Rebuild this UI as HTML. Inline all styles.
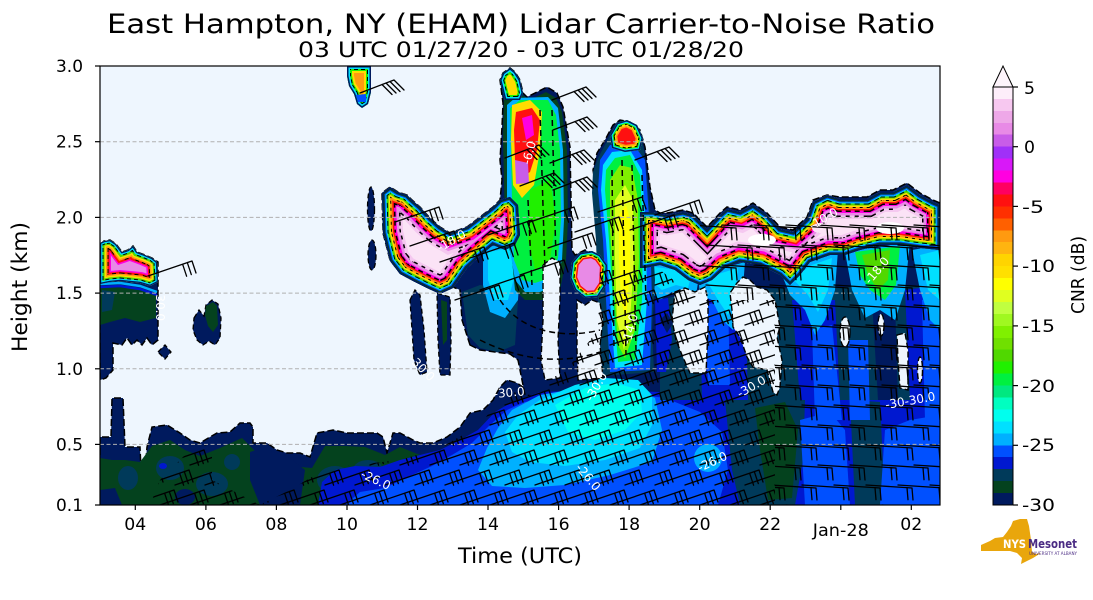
<!DOCTYPE html>
<html><head><meta charset="utf-8"><style>
html,body{margin:0;padding:0;background:#fff;}
svg{display:block;font-family:"DejaVu Sans","Liberation Sans",sans-serif;}
</style></head><body>
<svg width="1093" height="600" viewBox="0 0 1093 600" xmlns="http://www.w3.org/2000/svg">
<defs>
 <clipPath id="plot"><rect x="100" y="66" width="840" height="439"/></clipPath>
 <polygon id="c0" points="347,66 371,66 371,92 368,104 362,108 357,104 354,94 349,86 347,76"/>
 <polygon id="c1" points="100,243 104,241 110,240 116,244 122,252 128,250 133,246 137,252 145,255 152,258 157,262 158,282 150,286 140,283 130,282 120,281 110,282 100,284"/>
 <polygon id="c2" points="382,193 390,187 398,192 407,195 412,200 420,207 430,218 440,227 450,233 467,227 480,217 493,207 500,200 510,197 518,205 520,235 515,245 505,250 493,245 480,256 467,268 453,288 440,294 427,288 413,281 400,274 390,261 383,233"/>
 <polygon id="c3" points="640,212 653,212 667,215 683,212 693,215 707,229 720,215 727,209 740,212 753,205 767,215 780,229 793,232 807,219 813,202 827,195 840,199 853,199 867,199 880,192 893,192 907,185 920,195 933,202 940,205 940,250 920,248 900,245 880,245 860,250 845,255 830,255 810,262 800,275 790,285 780,275 760,265 740,262 725,268 712,280 700,285 688,280 675,270 660,265 645,268 640,268"/>
 <polygon id="c4" points="572,262 580,253 592,251 600,255 607,265 606,285 598,297 585,298 575,290 570,278"/>
 <polygon id="c5" points="610,135 617,123 627,120 637,125 643,138 640,150 625,152 612,148"/>
 <polygon id="c6" points="500,80 503,73 510,68 515,72 520,80 523,93 520,100 505,100"/>
 <clipPath id="k0"><polygon points="347,66 371,66 371,92 368,104 362,108 357,104 354,94 349,86 347,76"/></clipPath>
 <clipPath id="k1"><polygon points="100,243 104,241 110,240 116,244 122,252 128,250 133,246 137,252 145,255 152,258 157,262 158,282 150,286 140,283 130,282 120,281 110,282 100,284"/></clipPath>
 <clipPath id="k2"><polygon points="382,193 390,187 398,192 407,195 412,200 420,207 430,218 440,227 450,233 467,227 480,217 493,207 500,200 510,197 518,205 520,235 515,245 505,250 493,245 480,256 467,268 453,288 440,294 427,288 413,281 400,274 390,261 383,233"/></clipPath>
 <clipPath id="k3"><polygon points="640,212 653,212 667,215 683,212 693,215 707,229 720,215 727,209 740,212 753,205 767,215 780,229 793,232 807,219 813,202 827,195 840,199 853,199 867,199 880,192 893,192 907,185 920,195 933,202 940,205 940,250 920,248 900,245 880,245 860,250 845,255 830,255 810,262 800,275 790,285 780,275 760,265 740,262 725,268 712,280 700,285 688,280 675,270 660,265 645,268 640,268"/></clipPath>
 <clipPath id="k4"><polygon points="572,262 580,253 592,251 600,255 607,265 606,285 598,297 585,298 575,290 570,278"/></clipPath>
 <clipPath id="k5"><polygon points="610,135 617,123 627,120 637,125 643,138 640,150 625,152 612,148"/></clipPath>
 <clipPath id="k6"><polygon points="500,80 503,73 510,68 515,72 520,80 523,93 520,100 505,100"/></clipPath>
 <clipPath id="CA"><polygon points="150,505 160,480 195,445 212,445 212,480 260,505 290,490 310,478 330,468 400,460 440,448 480,425 500,398 540,383 565,372 598,330 600,270 660,270 700,300 775,300 775,505"/></clipPath>
 <clipPath id="CB"><polygon points="775,505 775,300 700,300 700,215 940,205 940,505"/></clipPath>
 <path id="bA" d="M0,0 L44,-15 M44,-15 L48,-3 M39.3,-13.4 L43.3,-1.4 M34.6,-11.8 L38.6,0.2"/>
 <path id="bB" d="M0,0 L46,3 M46,3 L47,15 M41,2.7 L42,14.7"/>
 <path id="bC" d="M0,0 L34,-13 M34,-13 L44,-3 M30,-11.5 L40,-1.5 M26,-10 L36,0 M22,-8.5 L32,1.5"/>
 <g id="rowA"><use href="#bA" x="0"/><use href="#bA" x="30"/><use href="#bA" x="60"/><use href="#bA" x="90"/><use href="#bA" x="120"/><use href="#bA" x="150"/><use href="#bA" x="180"/><use href="#bA" x="210"/><use href="#bA" x="240"/><use href="#bA" x="270"/><use href="#bA" x="300"/><use href="#bA" x="330"/><use href="#bA" x="360"/><use href="#bA" x="390"/><use href="#bA" x="420"/><use href="#bA" x="450"/><use href="#bA" x="480"/><use href="#bA" x="510"/><use href="#bA" x="540"/><use href="#bA" x="570"/><use href="#bA" x="600"/><use href="#bA" x="630"/><use href="#bA" x="660"/></g>
 <g id="rowB"><use href="#bB" x="0"/><use href="#bB" x="32"/><use href="#bB" x="64"/><use href="#bB" x="96"/><use href="#bB" x="128"/><use href="#bB" x="160"/><use href="#bB" x="192"/><use href="#bB" x="224"/></g>
</defs>

<rect width="1093" height="600" fill="#fff"/>

<!-- Titles -->
<text x="521" y="33" font-size="27" text-anchor="middle" textLength="828" lengthAdjust="spacingAndGlyphs">East Hampton, NY (EHAM) Lidar Carrier-to-Noise Ratio</text>
<text x="521" y="57" font-size="21" text-anchor="middle" textLength="446" lengthAdjust="spacingAndGlyphs">03 UTC 01/27/20 - 03 UTC 01/28/20</text>

<g clip-path="url(#plot)">
 <rect x="100" y="66" width="840" height="439" fill="#eef6fe"/>

 <!-- ground navy -->
 <polygon fill="#001a5e" stroke="#000" stroke-width="1.5" stroke-dasharray="7,3" points="100,505 100,437 111,437 112,398 123,398 125,447 140,447 141,470 145,470 147,447 152,427 167,425 180,433 190,440 200,443 210,437 217,433 230,432 240,423 250,423 253,427 253,443 267,443 277,450 287,453 300,453 310,457 317,433 333,430 347,433 357,433 377,433 383,437 387,453 393,433 400,433 413,440 420,443 433,443 447,437 460,427 470,413 483,410 493,400 500,387 507,380 517,383 527,390 533,388 543,377 560,378 600,380 657,374 707,374 730,382 775,396 782,396 800,380 940,380 940,505"/>
 <!-- left upper navy -->
 <polygon fill="#001a5e" stroke="#000" stroke-width="1.5" stroke-dasharray="7,3" points="100,245 104,241 110,240 116,244 122,252 128,250 133,246 137,252 145,255 152,258 158,262 158,340 152,345 147,338 142,345 137,340 132,345 127,338 122,345 113,343 113,370 106,378 100,380"/>
 <polygon fill="#001a5e" stroke="#000" stroke-width="1.3" stroke-dasharray="5,3" points="158,352 165,345 171,352 165,359"/>
 <polygon fill="#001a5e" stroke="#000" stroke-width="1.3" stroke-dasharray="5,3" points="194,318 199,310 204,316 206,305 212,300 218,304 221,318 220,338 215,345 209,341 203,345 197,340 193,330"/>
 <polygon fill="#04421e" points="206,306 213,302 217,306 218,325 213,332 208,326 205,315"/>
 <ellipse cx="371" cy="209" rx="3.5" ry="22" fill="#001a5e" stroke="#000" stroke-width="1.3" stroke-dasharray="5,3"/>
 <ellipse cx="372" cy="255" rx="4" ry="15" fill="#001a5e" stroke="#000" stroke-width="1.3" stroke-dasharray="5,3"/>
 <!-- right mass navy -->
 <polygon fill="#001a5e" stroke="#000" stroke-width="1.5" stroke-dasharray="7,3" points="470,345 462,320 460,290 453,287 440,293 427,287 413,280 400,273 390,260 383,233 382,193 390,187 398,192 407,195 412,200 420,207 430,218 440,227 450,233 467,227 480,217 493,207 500,200 502,180 500,160 502,127 503,103 500,80 503,73 510,68 515,72 520,80 523,93 527,97 537,92 547,87 557,93 563,107 570,147 571,200 572,250 575,255 585,250 597,255 600,240 597,193 593,170 597,153 605,140 613,125 620,120 630,122 640,130 645,147 650,187 655,210 660,213 667,213 683,210 693,213 707,227 720,213 727,207 740,210 753,203 767,213 780,227 793,230 807,217 813,200 827,195 840,197 853,197 867,197 880,190 893,190 907,183 920,193 933,200 940,203 940,400 560,400 525,395 518,360 510,354 495,352 480,350"/>
 <polygon fill="#001a5e" stroke="#000" stroke-width="1.3" stroke-dasharray="5,3" points="410,300 415,290 420,295 424,330 427,372 420,375 414,360 412,330"/>
 <polygon fill="#001a5e" stroke="#000" stroke-width="1.3" stroke-dasharray="5,3" points="437,293 450,297 451,340 450,375 440,375 438,340"/>
 <polygon fill="#04421e" points="441,300 447,302 447,340 443,345"/>

 <!-- left interior -->
 <polygon fill="#04421e" points="100,286 120,285 140,288 156,295 156,318 140,322 125,318 110,322 100,325"/>
 <polygon fill="#003a5a" points="102,290 115,292 112,310 102,312"/>
 <polyline fill="none" stroke="#0018d0" stroke-width="2.5" points="100,287 120,286 140,289 157,295"/>
 <polyline fill="none" stroke="#00b0ff" stroke-width="2.5" points="100,284 120,283 140,286 157,292"/>

 <!-- ground interior -->
 <polygon fill="#04421e" points="100,505 100,458 112,460 125,460 140,462 152,446 170,440 185,450 200,456 220,448 242,438 256,452 270,460 290,466 312,468 325,446 345,446 365,447 385,455 400,447 420,455 440,452 460,442 480,432 500,415 520,405 545,395 600,392 700,392 940,398 940,505"/>
 <polygon fill="#001a5e" points="250,452 262,448 290,458 305,470 300,505 260,505 250,480"/>
 <polygon fill="#001a5e" points="100,490 115,488 122,505 100,505"/>
 <ellipse cx="185" cy="497" rx="10" ry="8" fill="#001a5e"/>
 <ellipse cx="170" cy="468" rx="14" ry="12" fill="#003a5a"/>
 <ellipse cx="212" cy="484" rx="16" ry="12" fill="#003a5a"/>
 <ellipse cx="128" cy="478" rx="10" ry="12" fill="#003a5a"/>
 <ellipse cx="232" cy="462" rx="8" ry="8" fill="#003a5a"/>
 <ellipse cx="335" cy="480" rx="18" ry="14" fill="#003a5a"/>
 <ellipse cx="368" cy="470" rx="15" ry="10" fill="#003a5a"/>
 <ellipse cx="163" cy="466" rx="4" ry="3" fill="#0018d0"/>
 <polygon fill="#0018d0" points="318,505 322,482 335,470 355,466 380,467 400,460 420,455 440,450 460,440 478,430 495,412 512,402 540,392 600,390 660,392 700,395 940,400 940,505"/>
 <polygon fill="#0050ff" points="345,505 360,492 385,488 410,476 432,466 452,455 472,443 490,425 507,410 525,402 560,396 620,392 665,398 700,412 722,432 728,470 718,505"/>
 <polygon fill="#00b0ff" points="478,470 487,448 498,428 512,410 540,395 580,388 630,385 655,398 662,430 652,462 610,475 565,485 525,488 492,486"/>
 <polygon fill="#00e0ff" points="505,432 518,415 540,400 575,385 605,378 638,380 652,395 652,425 640,448 605,460 565,466 530,462 512,452"/>
 <polygon fill="#00ffee" points="555,405 585,388 615,383 640,390 642,412 625,430 595,440 568,432"/>
 <polygon fill="#003a5a" points="725,400 760,396 790,388 805,400 803,460 795,505 740,505 732,470"/>
 <polygon fill="#04421e" points="755,408 785,402 798,430 792,498 768,500 760,450"/>
 <polygon fill="#003a5a" points="850,400 880,402 885,505 855,505"/>
 <polygon fill="#0050ff" points="800,420 830,412 845,430 850,505 805,505"/>
 <polygon fill="#0050ff" points="885,430 910,420 940,415 940,505 880,505"/>
 <ellipse cx="708" cy="458" rx="14" ry="14" fill="#00b0ff"/>

 <!-- right region below cloud layer -->
 <polygon fill="#003a5a" points="660,300 700,290 940,285 940,400 660,400"/>
 <polygon fill="#0018d0" points="700,290 745,290 748,400 702,400"/>
 <polygon fill="#0018d0" points="792,300 835,300 840,400 800,400"/>
 <polygon fill="#0018d0" points="905,290 940,285 940,400 910,400"/>
 <polygon fill="#001a5e" points="872,300 895,300 898,400 878,400"/>
 <polygon fill="#0050ff" points="812,330 832,325 842,420 815,420"/>
 <polygon fill="#0050ff" points="705,305 728,300 730,385 708,385"/>
 <polygon fill="#0050ff" points="922,300 940,295 940,420 925,420"/>
 <polygon fill="#0050ff" points="848,340 868,340 870,420 850,420"/>
 <polygon fill="#00b0ff" points="640,262 700,270 696,295 685,300 672,292 660,300 648,290"/>
 <polygon fill="#00e0ff" points="648,266 692,272 688,288 676,285 662,290 652,282"/>
 <polygon fill="#00b0ff" points="698,275 745,262 742,300 733,330 722,320 712,300 700,295"/>
 <polygon fill="#00e0ff" points="705,278 738,268 735,298 728,315 718,300"/>
 <polygon fill="#00b0ff" points="780,270 800,280 810,258 838,250 835,290 825,320 815,335 805,310 790,295"/>
 <polygon fill="#00e0ff" points="792,278 812,265 832,258 828,290 818,312 808,295"/>
 <polygon fill="#00b0ff" points="845,252 910,242 905,290 895,320 880,310 865,318 852,290"/>
 <polygon fill="#00f040" points="855,252 900,246 896,285 885,300 870,290 860,275"/>
 <polygon fill="#50d800" points="862,255 890,250 888,280 878,290 868,275"/>
 <polygon fill="#00b0ff" points="912,250 940,245 940,330 930,320 920,290"/>
 <polygon fill="#00e0ff" points="920,255 940,250 940,300 928,290"/>
 <polygon fill="#0018d0" points="655,300 668,298 672,340 666,372 657,372"/>

 <!-- plume under boomerang -->
 <polygon fill="#003a5a" points="462,292 480,285 505,290 518,300 515,345 498,352 480,348 468,335"/>
 <polygon fill="#00b0ff" points="483,248 512,242 520,270 518,300 505,318 490,312 483,285"/>
 <polygon fill="#00e0ff" points="488,252 510,248 515,275 508,300 495,300 488,280"/>

 <!-- big plume -->
 <polygon fill="#04421e" points="504,100 510,85 522,95 530,100 546,92 556,98 562,112 567,150 568,220 566,260 560,290 545,300 525,300 515,290 512,260 505,230 504,180 503,140"/>
 <polygon fill="#00b0ff" points="507,105 515,98 548,97 558,108 563,150 564,220 562,260 555,285 540,292 525,292 515,280 510,250 507,200"/>
 <polygon fill="#00f040" points="510,108 520,100 548,100 556,115 560,150 561,220 558,258 550,278 535,283 522,280 514,260 512,200"/>
 <polygon fill="#20f000" points="530,190 550,180 556,220 550,260 535,270 528,240"/>
 <polygon fill="#ffdc00" points="512,105 530,100 542,112 540,150 534,185 522,198 513,185 511,140"/>
 <polygon fill="#ff1010" points="516,112 532,108 540,120 537,150 530,172 521,178 515,160 514,130"/>
 <polygon fill="#ff00e0" points="522,118 532,115 534,135 526,140"/>
 <polygon fill="#c85ce8" points="515,160 528,163 529,183 516,184"/>

 <!-- 18 UTC plume -->
 <polygon fill="#003a5a" points="598,158 606,143 614,128 630,126 640,134 644,150 648,190 652,228 655,280 652,330 654,372 603,376 600,340 598,300 596,240 592,193 593,172"/>
 <polygon fill="#0050ff" points="600,160 610,145 630,140 645,160 650,230 652,300 650,370 610,372 606,300 603,240 598,190"/>
 <polygon fill="#00e0ff" points="603,165 612,152 630,150 642,170 646,230 647,300 642,365 615,368 610,300 606,240 601,190"/>
 <polygon fill="#00f040" points="606,170 615,158 630,155 640,175 643,230 642,300 635,360 618,362 613,300 609,240 605,190"/>
 <polygon fill="#80f000" points="610,180 620,165 632,168 638,200 639,260 635,330 625,358 618,345 614,290 610,230"/>
 <polygon fill="#e0ff20" points="615,200 625,185 633,200 634,260 630,320 624,350 617,320 615,260"/>
 <polygon fill="#ffff00" points="619,215 626,205 630,220 630,270 626,320 621,300 619,260"/>

 <!-- Clouds with ring colouring -->
 <g clip-path="url(#k1)">
  <use href="#c1" fill="#e88ae6"/>
  <use href="#c1" fill="none" stroke="#ff00e0" stroke-width="22"/>
  <use href="#c1" fill="none" stroke="#ff1010" stroke-width="19"/>
  <use href="#c1" fill="none" stroke="#000" stroke-width="17" stroke-dasharray="4,3"/>
  <use href="#c1" fill="none" stroke="#ff9a10" stroke-width="15"/>
  <use href="#c1" fill="none" stroke="#ffdc00" stroke-width="12"/>
  <use href="#c1" fill="none" stroke="#50d800" stroke-width="9"/>
  <use href="#c1" fill="none" stroke="#000" stroke-width="7" stroke-dasharray="4,3"/>
  <use href="#c1" fill="none" stroke="#00e0ff" stroke-width="5"/>
  <use href="#c1" fill="none" stroke="#001a5e" stroke-width="2.5"/>
 </g>
 <g clip-path="url(#k2)">
  <use href="#c2" fill="#fbe3f6"/>
  <use href="#c2" fill="none" stroke="#f5c8f0" stroke-width="40"/>
  <use href="#c2" fill="none" stroke="#000" stroke-width="36" stroke-dasharray="4,5"/>
  <use href="#c2" fill="none" stroke="#e88ae6" stroke-width="33"/>
  <use href="#c2" fill="none" stroke="#ff00e0" stroke-width="28"/>
  <use href="#c2" fill="none" stroke="#000" stroke-width="26" stroke-dasharray="5,4"/>
  <use href="#c2" fill="none" stroke="#ff1010" stroke-width="23"/>
  <use href="#c2" fill="none" stroke="#ff9a10" stroke-width="20"/>
  <use href="#c2" fill="none" stroke="#000" stroke-width="18" stroke-dasharray="3,4"/>
  <use href="#c2" fill="none" stroke="#ffdc00" stroke-width="16"/>
  <use href="#c2" fill="none" stroke="#50d800" stroke-width="13"/>
  <use href="#c2" fill="none" stroke="#000" stroke-width="11" stroke-dasharray="5,4"/>
  <use href="#c2" fill="none" stroke="#00e0ff" stroke-width="9"/>
  <use href="#c2" fill="none" stroke="#0050ff" stroke-width="7"/>
  <use href="#c2" fill="none" stroke="#04421e" stroke-width="5"/>
  <use href="#c2" fill="none" stroke="#001a5e" stroke-width="3"/>
 </g>
 <g clip-path="url(#k3)">
  <use href="#c3" fill="#fbe3f6"/>
  <use href="#c3" fill="none" stroke="#f5c8f0" stroke-width="40"/>
  <use href="#c3" fill="none" stroke="#000" stroke-width="36" stroke-dasharray="4,5"/>
  <use href="#c3" fill="none" stroke="#e88ae6" stroke-width="33"/>
  <use href="#c3" fill="none" stroke="#ff00e0" stroke-width="28"/>
  <use href="#c3" fill="none" stroke="#000" stroke-width="26" stroke-dasharray="5,4"/>
  <use href="#c3" fill="none" stroke="#ff1010" stroke-width="23"/>
  <use href="#c3" fill="none" stroke="#ff9a10" stroke-width="20"/>
  <use href="#c3" fill="none" stroke="#000" stroke-width="18" stroke-dasharray="3,4"/>
  <use href="#c3" fill="none" stroke="#ffdc00" stroke-width="16"/>
  <use href="#c3" fill="none" stroke="#50d800" stroke-width="13"/>
  <use href="#c3" fill="none" stroke="#000" stroke-width="11" stroke-dasharray="5,4"/>
  <use href="#c3" fill="none" stroke="#00e0ff" stroke-width="9"/>
  <use href="#c3" fill="none" stroke="#0050ff" stroke-width="7"/>
  <use href="#c3" fill="none" stroke="#04421e" stroke-width="5"/>
  <use href="#c3" fill="none" stroke="#001a5e" stroke-width="3"/>
 </g>
 <g clip-path="url(#k4)">
  <use href="#c4" fill="#e88ae6"/>
  <use href="#c4" fill="none" stroke="#ff1010" stroke-width="14"/>
  <use href="#c4" fill="none" stroke="#ffdc00" stroke-width="11"/>
  <use href="#c4" fill="none" stroke="#000" stroke-width="9" stroke-dasharray="4,3"/>
  <use href="#c4" fill="none" stroke="#20f000" stroke-width="7"/>
  <use href="#c4" fill="none" stroke="#00e0ff" stroke-width="5"/>
  <use href="#c4" fill="none" stroke="#001a5e" stroke-width="3"/>
 </g>
 <g clip-path="url(#k5)">
  <use href="#c5" fill="#ff1010"/>
  <use href="#c5" fill="none" stroke="#ff9a10" stroke-width="14"/>
  <use href="#c5" fill="none" stroke="#ffdc00" stroke-width="11"/>
  <use href="#c5" fill="none" stroke="#000" stroke-width="9" stroke-dasharray="4,3"/>
  <use href="#c5" fill="none" stroke="#20f000" stroke-width="7"/>
  <use href="#c5" fill="none" stroke="#00e0ff" stroke-width="5"/>
  <use href="#c5" fill="none" stroke="#001a5e" stroke-width="3"/>
 </g>
 <g clip-path="url(#k6)">
  <use href="#c6" fill="#ffdc00"/>
  <use href="#c6" fill="none" stroke="#20f000" stroke-width="10"/>
  <use href="#c6" fill="none" stroke="#000" stroke-width="8" stroke-dasharray="4,3"/>
  <use href="#c6" fill="none" stroke="#00e0ff" stroke-width="6"/>
  <use href="#c6" fill="none" stroke="#001a5e" stroke-width="3"/>
 </g>
 <g clip-path="url(#k0)">
  <use href="#c0" fill="#ff9a10"/>
  <use href="#c0" fill="none" stroke="#ffdc00" stroke-width="14"/>
  <use href="#c0" fill="none" stroke="#20f000" stroke-width="10"/>
  <use href="#c0" fill="none" stroke="#000" stroke-width="8" stroke-dasharray="4,3"/>
  <use href="#c0" fill="none" stroke="#00e0ff" stroke-width="6"/>
  <use href="#c0" fill="none" stroke="#001a5e" stroke-width="3"/>
 </g>
 <polygon fill="#0050ff" points="356,95 366,94 366,102 358,102"/>
 <!-- white patches in clouds -->
 <ellipse cx="762" cy="240" rx="14" ry="6" fill="#ffffff"/>
 <ellipse cx="890" cy="228" rx="14" ry="6" fill="#ffffff"/>
 <ellipse cx="820" cy="228" rx="8" ry="5" fill="#fbe3f6"/>

 <!-- holes -->
 <g fill="#eef6fe" stroke="#000" stroke-width="1.4" stroke-dasharray="6,3">
  <polygon points="543,265 552,258 560,262 560,300 558,340 560,378 545,380 541,360 543,320"/>
  <polygon points="577,300 585,305 592,300 600,303 603,320 600,345 603,378 578,380 577,350"/>
  <polygon points="675,292 685,288 695,292 705,287 708,300 708,330 706,373 690,373 682,355 676,340 672,320"/>
  <polygon points="732,310 730,293 737,283 743,277 750,280 757,287 767,290 775,300 780,327 777,337 782,360 780,387 777,395 773,392 767,370 753,367 747,357 740,337 733,327"/>
  <ellipse cx="845" cy="332" rx="5" ry="15"/>
  <ellipse cx="881" cy="325" rx="3" ry="11"/>
  <polygon points="897,335 905,333 908,350 908,390 900,388 898,360"/>
  <ellipse cx="920" cy="370" rx="2.5" ry="13"/>
 </g>
 <polygon fill="#001a5e" points="660,320 667,313 673,323 667,333"/>

 <!-- dashed contour lines in plumes -->
 <g stroke="#000" stroke-width="1.5" stroke-dasharray="6,4" fill="none">
  <path d="M612,170 L614,350 M622,160 L626,355 M632,165 L636,350 M642,175 L646,300"/>
  <path d="M540,110 L545,270 M552,110 L556,260 M528,200 L532,285"/>
  <path d="M500,300 C520,330 560,340 600,330 M480,340 C520,360 560,365 600,352"/>
 </g>

 <!-- gridlines -->
 <g stroke="#b0b0b0" stroke-width="1" stroke-dasharray="4,2.5">
  <line x1="100" y1="141.7" x2="940" y2="141.7"/>
  <line x1="100" y1="217.4" x2="940" y2="217.4"/>
  <line x1="100" y1="293.1" x2="940" y2="293.1"/>
  <line x1="100" y1="368.8" x2="940" y2="368.8"/>
  <line x1="100" y1="444.4" x2="940" y2="444.4"/>
 </g>

 <!-- wind barbs -->
 <g stroke="#000" stroke-width="1.3" fill="none" stroke-linecap="round">
  <g clip-path="url(#CA)">
   <use href="#rowA" x="100" y="505"/><use href="#rowA" x="115" y="485"/><use href="#rowA" x="100" y="465"/><use href="#rowA" x="115" y="445"/><use href="#rowA" x="100" y="425"/><use href="#rowA" x="115" y="405"/><use href="#rowA" x="100" y="385"/><use href="#rowA" x="115" y="365"/><use href="#rowA" x="100" y="345"/><use href="#rowA" x="115" y="325"/><use href="#rowA" x="100" y="305"/><use href="#rowA" x="115" y="285"/>
  </g>
  <g clip-path="url(#CB)">
   <use href="#rowB" x="690" y="505"/><use href="#rowB" x="706" y="485"/><use href="#rowB" x="690" y="465"/><use href="#rowB" x="706" y="445"/><use href="#rowB" x="690" y="425"/><use href="#rowB" x="706" y="405"/><use href="#rowB" x="690" y="385"/><use href="#rowB" x="706" y="365"/><use href="#rowB" x="690" y="345"/><use href="#rowB" x="706" y="325"/><use href="#rowB" x="690" y="305"/><use href="#rowB" x="706" y="285"/><use href="#rowB" x="690" y="265"/><use href="#rowB" x="706" y="245"/><use href="#rowB" x="690" y="225"/>
  </g>
  <use href="#bC" x="360" y="93"/>
  <use href="#bC" x="552" y="100"/><use href="#bC" x="553" y="130"/><use href="#bC" x="550" y="163"/><use href="#bC" x="553" y="190"/>
  <use href="#bC" x="505" y="158"/><use href="#bC" x="520" y="186"/><use href="#bC" x="635" y="160"/>
  <use href="#bA" x="395" y="222"/><use href="#bA" x="410" y="246"/><use href="#bA" x="440" y="262"/><use href="#bA" x="470" y="258"/><use href="#bA" x="488" y="235"/><use href="#bA" x="530" y="222"/><use href="#bA" x="548" y="248"/><use href="#bA" x="575" y="232"/><use href="#bA" x="598" y="212"/><use href="#bA" x="630" y="230"/><use href="#bA" x="655" y="215"/><use href="#bA" x="520" y="275"/><use href="#bA" x="480" y="290"/><use href="#bA" x="455" y="300"/><use href="#bA" x="148" y="276"/>
 </g>

 <!-- contour labels -->
 <g fill="#fff" font-size="12">
  <text transform="translate(360,477) rotate(25)">-26.0</text>
  <text transform="translate(575,468) rotate(50)">-26.0</text>
  <text transform="translate(700,472) rotate(-25)">-26.0</text>
  <text transform="translate(494,398) rotate(-5)">-30.0</text>
  <text transform="translate(592,402) rotate(-60)">-30.0</text>
  <text transform="translate(408,360) rotate(45)">-30.0</text>
  <text transform="translate(740,398) rotate(-30)">-30.0</text>
  <text transform="translate(886,409) rotate(-10)">-30-30.0</text>
  <text transform="translate(156,290) rotate(90)">-30.0</text>
  <text transform="translate(440,252) rotate(-30)">-18.0</text>
  <text transform="translate(812,230) rotate(-30)">-10.0</text>
  <text transform="translate(630,345) rotate(-75)">-14.0</text>
  <text transform="translate(870,285) rotate(-50)">-18.0</text>
  <text transform="translate(530,165) rotate(-75)">-6.0</text>
 </g>
</g>

<!-- Axes frame and ticks -->
<rect x="100" y="66" width="840" height="439" fill="none" stroke="#000" stroke-width="1.2"/>
<g stroke="#000" stroke-width="1.2">
 <line x1="95" y1="66" x2="100" y2="66"/><line x1="95" y1="141.7" x2="100" y2="141.7"/><line x1="95" y1="217.4" x2="100" y2="217.4"/><line x1="95" y1="293.1" x2="100" y2="293.1"/><line x1="95" y1="368.8" x2="100" y2="368.8"/><line x1="95" y1="444.4" x2="100" y2="444.4"/><line x1="95" y1="505" x2="100" y2="505"/>
 <line x1="135.3" y1="505" x2="135.3" y2="510"/><line x1="205.9" y1="505" x2="205.9" y2="510"/><line x1="276.4" y1="505" x2="276.4" y2="510"/><line x1="347" y1="505" x2="347" y2="510"/><line x1="417.5" y1="505" x2="417.5" y2="510"/><line x1="488" y1="505" x2="488" y2="510"/><line x1="558.6" y1="505" x2="558.6" y2="510"/><line x1="629.1" y1="505" x2="629.1" y2="510"/><line x1="699.7" y1="505" x2="699.7" y2="510"/><line x1="770.2" y1="505" x2="770.2" y2="510"/><line x1="840.8" y1="505" x2="840.8" y2="510"/><line x1="911.3" y1="505" x2="911.3" y2="510"/>
</g>
<g font-size="17" text-anchor="end" fill="#000">
 <text x="83" y="72" textLength="27" lengthAdjust="spacingAndGlyphs">3.0</text>
 <text x="83" y="147.7" textLength="27" lengthAdjust="spacingAndGlyphs">2.5</text>
 <text x="83" y="223.4" textLength="27" lengthAdjust="spacingAndGlyphs">2.0</text>
 <text x="83" y="299.1" textLength="27" lengthAdjust="spacingAndGlyphs">1.5</text>
 <text x="83" y="374.8" textLength="27" lengthAdjust="spacingAndGlyphs">1.0</text>
 <text x="83" y="450.4" textLength="27" lengthAdjust="spacingAndGlyphs">0.5</text>
 <text x="83" y="511" textLength="27" lengthAdjust="spacingAndGlyphs">0.1</text>
</g>
<g font-size="17" text-anchor="middle" fill="#000">
 <text x="135.3" y="530" textLength="22" lengthAdjust="spacingAndGlyphs">04</text>
 <text x="205.9" y="530" textLength="22" lengthAdjust="spacingAndGlyphs">06</text>
 <text x="276.4" y="530" textLength="22" lengthAdjust="spacingAndGlyphs">08</text>
 <text x="347" y="530" textLength="22" lengthAdjust="spacingAndGlyphs">10</text>
 <text x="417.5" y="530" textLength="22" lengthAdjust="spacingAndGlyphs">12</text>
 <text x="488" y="530" textLength="22" lengthAdjust="spacingAndGlyphs">14</text>
 <text x="558.6" y="530" textLength="22" lengthAdjust="spacingAndGlyphs">16</text>
 <text x="629.1" y="530" textLength="22" lengthAdjust="spacingAndGlyphs">18</text>
 <text x="699.7" y="530" textLength="22" lengthAdjust="spacingAndGlyphs">20</text>
 <text x="770.2" y="530" textLength="22" lengthAdjust="spacingAndGlyphs">22</text>
 <text x="840.8" y="536" textLength="56" lengthAdjust="spacingAndGlyphs">Jan-28</text>
 <text x="911.3" y="530" textLength="22" lengthAdjust="spacingAndGlyphs">02</text>
</g>
<text x="520" y="563" font-size="21.5" text-anchor="middle" textLength="124" lengthAdjust="spacingAndGlyphs">Time (UTC)</text>
<text transform="translate(27,287) rotate(-90)" font-size="21.5" text-anchor="middle" textLength="130" lengthAdjust="spacingAndGlyphs">Height (km)</text>

<!-- Colorbar -->
<g shape-rendering="crispEdges">
 <rect x="993" y="87" width="20" height="12.2" fill="#fdeefa"/>
 <rect x="993" y="98.9" width="20" height="12.2" fill="#f7c8f0"/>
 <rect x="993" y="110.8" width="20" height="12.2" fill="#eea8e8"/>
 <rect x="993" y="122.8" width="20" height="12.2" fill="#e88ae6"/>
 <rect x="993" y="134.7" width="20" height="12.2" fill="#c85ce8"/>
 <rect x="993" y="146.7" width="20" height="12.2" fill="#a030f8"/>
 <rect x="993" y="158.6" width="20" height="12.2" fill="#d818f8"/>
 <rect x="993" y="170.6" width="20" height="12.2" fill="#ff00e0"/>
 <rect x="993" y="182.5" width="20" height="12.2" fill="#ff0060"/>
 <rect x="993" y="194.5" width="20" height="12.2" fill="#ff1010"/>
 <rect x="993" y="206.4" width="20" height="12.2" fill="#ff3000"/>
 <rect x="993" y="218.3" width="20" height="12.2" fill="#ff6000"/>
 <rect x="993" y="230.3" width="20" height="12.2" fill="#ff9a10"/>
 <rect x="993" y="242.2" width="20" height="12.2" fill="#ffb410"/>
 <rect x="993" y="254.2" width="20" height="12.2" fill="#ffd400"/>
 <rect x="993" y="266.1" width="20" height="12.2" fill="#ffe000"/>
 <rect x="993" y="278.1" width="20" height="12.2" fill="#ffff00"/>
 <rect x="993" y="290" width="20" height="12.2" fill="#e0ff20"/>
 <rect x="993" y="301.9" width="20" height="12.2" fill="#c0ff40"/>
 <rect x="993" y="313.9" width="20" height="12.2" fill="#a0f820"/>
 <rect x="993" y="325.8" width="20" height="12.2" fill="#80f000"/>
 <rect x="993" y="337.8" width="20" height="12.2" fill="#70e000"/>
 <rect x="993" y="349.7" width="20" height="12.2" fill="#50d800"/>
 <rect x="993" y="361.7" width="20" height="12.2" fill="#20f000"/>
 <rect x="993" y="373.6" width="20" height="12.2" fill="#00f040"/>
 <rect x="993" y="385.5" width="20" height="12.2" fill="#00e880"/>
 <rect x="993" y="397.5" width="20" height="12.2" fill="#00ffc0"/>
 <rect x="993" y="409.4" width="20" height="12.2" fill="#00ffee"/>
 <rect x="993" y="421.4" width="20" height="12.2" fill="#00e0ff"/>
 <rect x="993" y="433.3" width="20" height="12.2" fill="#00b0ff"/>
 <rect x="993" y="445.3" width="20" height="12.2" fill="#0050ff"/>
 <rect x="993" y="457.2" width="20" height="12.2" fill="#0018d0"/>
 <rect x="993" y="469.1" width="20" height="12.2" fill="#003a5a"/>
 <rect x="993" y="481.1" width="20" height="12.2" fill="#04421e"/>
 <rect x="993" y="493" width="20" height="12" fill="#001a5e"/>
</g>
<polygon points="993,87 1003,66 1013,87" fill="#fdf4fb" stroke="#000" stroke-width="1"/>
<polygon points="993,87 993,505 1013,505 1013,87" fill="none" stroke="#000" stroke-width="1"/>
<g stroke="#000" stroke-width="1.2">
 <line x1="1013" y1="87" x2="1018" y2="87"/><line x1="1013" y1="146.7" x2="1018" y2="146.7"/><line x1="1013" y1="206.4" x2="1018" y2="206.4"/><line x1="1013" y1="266.1" x2="1018" y2="266.1"/><line x1="1013" y1="325.9" x2="1018" y2="325.9"/><line x1="1013" y1="385.6" x2="1018" y2="385.6"/><line x1="1013" y1="445.3" x2="1018" y2="445.3"/><line x1="1013" y1="505" x2="1018" y2="505"/>
</g>
<g font-size="17" fill="#000">
 <text x="1024" y="94" textLength="11" lengthAdjust="spacingAndGlyphs">5</text>
 <text x="1024" y="153" textLength="11" lengthAdjust="spacingAndGlyphs">0</text>
 <text x="1022" y="213" textLength="22" lengthAdjust="spacingAndGlyphs">-5</text>
 <text x="1022" y="272" textLength="33" lengthAdjust="spacingAndGlyphs">-10</text>
 <text x="1022" y="332" textLength="33" lengthAdjust="spacingAndGlyphs">-15</text>
 <text x="1022" y="392" textLength="33" lengthAdjust="spacingAndGlyphs">-20</text>
 <text x="1022" y="451" textLength="33" lengthAdjust="spacingAndGlyphs">-25</text>
 <text x="1022" y="511" textLength="33" lengthAdjust="spacingAndGlyphs">-30</text>
</g>
<text transform="translate(1084,275) rotate(-90)" font-size="17.5" text-anchor="middle" textLength="78" lengthAdjust="spacingAndGlyphs">CNR (dB)</text>

<!-- NYS Mesonet logo -->
<polygon fill="#e9a60c" points="981,551 981,545 990,541 995,538 1003,537 1007,532 1011,526 1013,521 1020,519 1027,519 1029,526 1031,540 1032,552 1036,554 1041,553 1033,558 1025,562 1021,564 1022,558 1017,553 1010,551"/>
<text x="1003" y="548" font-size="11.5" font-weight="bold" fill="#fff" textLength="23" lengthAdjust="spacingAndGlyphs">NYS</text>
<text x="1028" y="548" font-size="12.5" font-weight="bold" fill="#4b2c84" textLength="49" lengthAdjust="spacingAndGlyphs">Mesonet</text>
<text x="1029" y="555" font-size="4.5" fill="#4b2c84" textLength="48" lengthAdjust="spacingAndGlyphs">UNIVERSITY AT ALBANY</text>
</svg>
</body></html>
